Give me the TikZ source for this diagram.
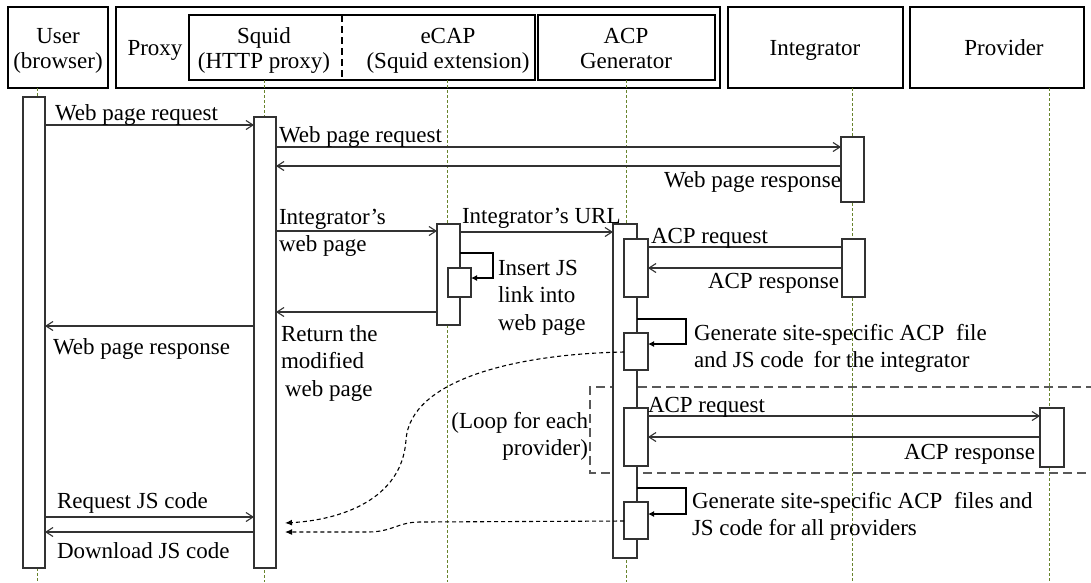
\documentclass[tikz,border=0pt]{standalone}
\usepackage{fontspec}
\setmainfont{Liberation Serif}
\usetikzlibrary{arrows.meta,fit}
\definecolor{lifegreen}{RGB}{104,132,44}
\definecolor{ink}{RGB}{50,50,50}
% left/right/centre aligned block whose baseline is that of its first line
\newcommand\ml[2][l]{\begin{tabular}[t]{@{}#1@{}}#2\end{tabular}}

\begin{document}
\begin{tikzpicture}[x=1pt,y=-1pt,
  every node/.style={font=\fontsize{23}{27.5}\selectfont, inner sep=0pt, outer sep=0pt},
  hfont/.style={font=\fontsize{23}{25}\selectfont},
  head/.style={draw=black, line width=2.4pt},
  bar/.style={draw=ink, line width=1.2pt, fill=white},
  life/.style={draw=lifegreen, line width=0.8pt, dash pattern=on 3pt off 2pt},
  msg/.style={draw=ink, line width=1.1pt, -{Straight Barb[length=7pt,width=9pt]}},
  plainmsg/.style={draw=ink, line width=1.1pt},
  selfmsg/.style={draw=black, line width=1.1pt, -{Latex[length=6pt,width=6pt]}},
  replymsg/.style={draw=black, line width=1.1pt, dash pattern=on 4pt off 3pt, -{Latex[length=7pt,width=6pt]}},
  loopbox/.style={draw=black!65, line width=1.2pt, dash pattern=on 9pt off 5pt},
  lbl/.style={anchor=base west}, rlbl/.style={anchor=base east}, clbl/.style={anchor=base, hfont}]

\fill[white] (0,0) rectangle (1091,582);
\useasboundingbox (0,0) rectangle (1091,582);

% header boxes
\node[head, fit={(8,7)(108,88)}] (user) {};
\node[head, fit={(116,7)(720,88)}] (proxy) {};
\node[head, fit={(189,15)(535,80)}] (squid) {};
\node[head, fit={(538,15)(715,80)}] (acp) {};
\node[head, fit={(728,7)(903,88)}] (integ) {};
\node[head, fit={(910,7)(1084,88)}] (prov) {};
\draw[line width=2.4pt, dash pattern=on 7pt off 4pt] (squid.north -| 342,0) -- (squid.south -| 342,0);

\node[clbl] (usert) at (58,43) {\ml[c]{User\\(browser)}};
\node[hfont, anchor=base] (proxyt) at (155,55) {Proxy};
\node[clbl] (squidt) at (264,43) {\ml[c]{Squid\\(HTTP proxy)}};
\node[clbl] (ecapt) at (448,43) {\ml[c]{eCAP\\(Squid extension)}};
\node[clbl] (acpt) at (626,43) {\ml[c]{ACP\\Generator}};
\node[hfont, anchor=base] (integt) at (815,55) {Integrator};
\node[hfont, anchor=base] (provt) at (1004,55) {Provider};

% lifelines
\coordinate (ue) at (37,582);
\coordinate (se) at (264,582);
\coordinate (ee) at (447,582);
\coordinate (ae) at (626,582);
\coordinate (ie) at (852,582);
\coordinate (pe) at (1049,582);
\draw[life] (user.south -| ue) -- (ue);
\draw[life] (squid.south -| se) -- (se);
\draw[life] (squid.south -| ee) -- (ee);
\draw[life] (acp.south -| ae) -- (ae);
\draw[life] (integ.south -| ie) -- (ie);
\draw[life] (prov.south -| pe) -- (pe);

% loop frame
\draw[loopbox] (1095,387) -- (590,387) -- (590,473) -- (1095,473);

% activation bars
\node[bar, fit={(23,97)(45,568)}] (ubar) {};
\node[bar, fit={(254,117)(276,568)}] (sbar) {};
\node[bar, fit={(437,224)(460,325)}] (ebar) {};
\node[bar, fit={(448,268)(471,297)}] (ein) {};
\node[bar, fit={(841,137)(864,202)}] (ib1) {};
\node[bar, fit={(842,239)(865,297)}] (ib2) {};
\node[bar, fit={(613,224)(637,558)}] (abar) {};
\node[bar, fit={(624,239)(648,297)}] (a1) {};
\node[bar, fit={(624,333)(648,370)}] (a2) {};
\node[bar, fit={(624,408)(648,466)}] (a3) {};
\node[bar, fit={(624,502)(648,539)}] (a4) {};
\node[bar, fit={(1040,408)(1064,467)}] (pbar) {};

% messages
\draw[msg] (ubar.east |- 0,125) -- (sbar.west |- 0,125);
\draw[msg] (sbar.east |- 0,147) -- (ib1.west |- 0,147);
\draw[msg] (ib1.west |- 0,166) -- (sbar.east |- 0,166);
\draw[msg] (sbar.east |- 0,231) -- (ebar.west |- 0,231);
\draw[msg] (ebar.east |- 0,232) -- (abar.west |- 0,232);
\draw[selfmsg] (ebar.east |- 0,253) -- (493,253) -- (493,278) -- (ein.east |- 0,278);
\draw[msg] (ebar.west |- 0,312) -- (sbar.east |- 0,312);
\draw[msg] (sbar.west |- 0,326) -- (ubar.east |- 0,326);
\draw[plainmsg] (a1.east |- 0,247) -- (ib2.west |- 0,247);
\draw[msg] (ib2.west |- 0,268) -- (a1.east |- 0,268);
\draw[selfmsg] (abar.east |- 0,319) -- (686,319) -- (686,344) -- (a2.east |- 0,344);
\draw[msg] (a3.east |- 0,416) -- (pbar.west |- 0,416);
\draw[msg] (pbar.west |- 0,437) -- (a3.east |- 0,437);
\draw[selfmsg] (abar.east |- 0,488) -- (686,488) -- (686,514) -- (a4.east |- 0,514);
\draw[msg] (ubar.east |- 0,517) -- (sbar.west |- 0,517);
\draw[msg] (sbar.west |- 0,532) -- (ubar.east |- 0,532);

% generated code handed back to the proxy
\coordinate (js1) at (285,523);
\coordinate (js2) at (285,532);
\draw[replymsg] (a2.west |- 0,352) .. controls (515,354) and (410,380) .. (406,440)
                .. controls (402,500) and (340,520) .. (js1);
\draw[replymsg] (a4.west |- 0,521) -- (420,522) .. controls (398,522) and (392,532) .. (368,532) -- (js2);

% message labels
\node[lbl] (l1) at (55,120) {Web page request};
\node[lbl] (l2) at (279,142) {Web page request};
\node[rlbl] (l3) at (841,187) {Web page response};
\node[lbl] (l4) at (279,224) {\ml{Integrator’s\\web page}};
\node[lbl] (l5) at (462,223) {Integrator’s URL};
\node[lbl] (l6) at (498,275) {\ml{Insert JS\\link into\\web page}};
\node[lbl] (l7) at (281,341) {\ml{Return the\\modified\\\hspace{4pt}web page}};
\node[lbl] (l8) at (53,354) {Web page response};
\node[lbl] (l9) at (651,243) {ACP request};
\node[rlbl] (l10) at (839,288) {ACP response};
\node[lbl] (l11) at (694,340) {\ml{Generate site-specific ACP\hspace{6pt} file\\and JS code\hspace{4pt} for the integrator}};
\node[rlbl] (l12) at (588,428) {\ml[r]{(Loop for each\\provider)}};
\node[lbl] (l13) at (648,412) {ACP request};
\node[rlbl] (l14) at (1035,459) {ACP response};
\node[lbl] (l15) at (692,508) {\ml{Generate site-specific ACP\hspace{6pt} files and\\JS code for all providers}};
\node[lbl] (l16) at (57,508) {Request JS code};
\node[lbl] (l17) at (57,558) {Download JS code};
\end{tikzpicture}
\end{document}
